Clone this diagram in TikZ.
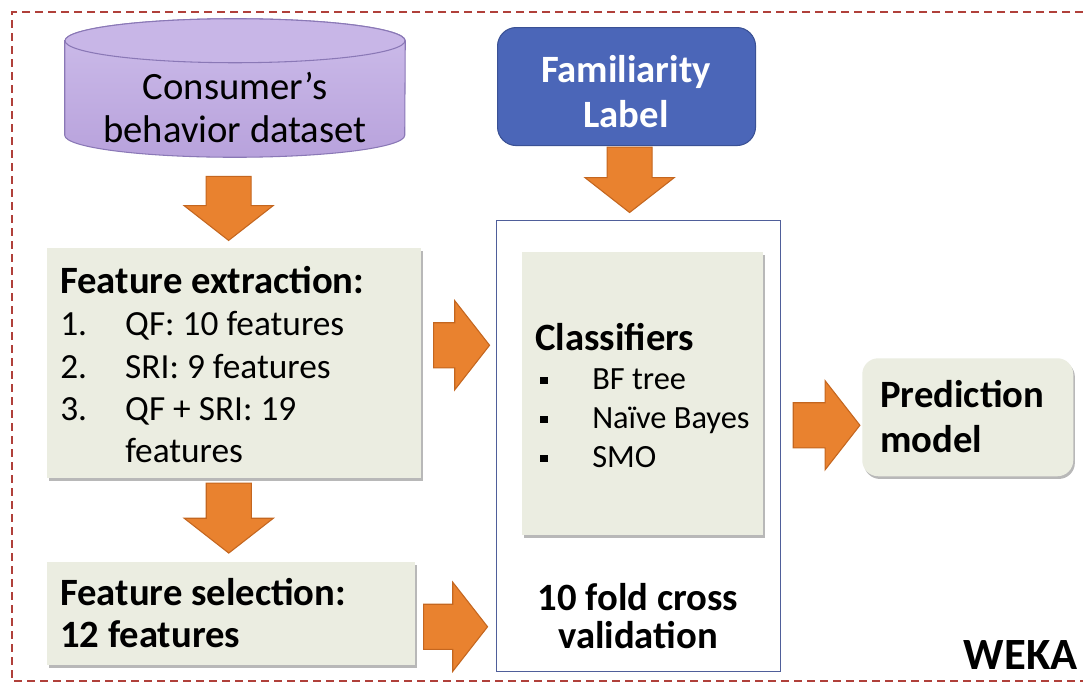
\documentclass[tikz,border=0pt]{standalone}
\usepackage{fontspec}
\setmainfont{Carlito}
\usepackage{tikz}
\usetikzlibrary{shapes.arrows,shadows,calc}
\usepackage{xcolor}

\definecolor{boxfill}{HTML}{EBEDE1}
\definecolor{arrowfill}{HTML}{E9822F}
\definecolor{arrowedge}{HTML}{C4661F}
\definecolor{labelfill}{HTML}{4B66B8}
\definecolor{labeledge}{HTML}{3A5195}
\definecolor{dbtop}{HTML}{CDBDEA}
\definecolor{dbbot}{HTML}{B8A2DC}
\definecolor{dbcap}{HTML}{C8B6E7}
\definecolor{dbedge}{HTML}{8A78B6}
\definecolor{framered}{HTML}{B0403A}
\definecolor{cvedge}{HTML}{4F5E9A}

\tikzset{
  stepbox/.style={rectangle, fill=boxfill, inner sep=0pt, anchor=north west,
    drop shadow={shadow xshift=1.2pt, shadow yshift=-2pt, fill=black, opacity=0.28}},
  roundbox/.style={stepbox, rounded corners=12pt},
  fatarrow/.style={single arrow, fill=arrowfill, draw=arrowedge, line width=0.8pt,
    inner xsep=0pt, inner ysep=16.5pt, minimum width=66pt,
    single arrow head extend=16.5pt, single arrow tip angle=104},
  downarrow/.style={fatarrow, shape border rotate=270, inner xsep=16.5pt, inner ysep=0pt},
  boldtext/.style={font=\fontsize{29}{31.5}\selectfont\bfseries, inner sep=0pt},
  plaintext/.style={font=\fontsize{26.5}{31.5}\selectfont, inner sep=0pt},
  itemtext/.style={font=\fontsize{24.3}{29}\selectfont, inner sep=0pt, anchor=base west},
}

\begin{document}
\begin{tikzpicture}[x=0.75pt, y=-0.75pt]
\useasboundingbox (0,0) rectangle (1083,686);
\fill[white] (0,0) rectangle (1083,686);

% dashed frame
\draw[framered, line width=1.1pt, dash pattern=on 6pt off 3.75pt] (1083,12) -- (12,12) -- (12,681) -- (1083,681);

% dataset cylinder
\node[minimum width=255pt, minimum height=103.5pt, inner sep=0pt] (db) at (235,88) {};
\draw[dbedge, line width=0.8pt, top color=dbtop, bottom color=dbbot]
  ([yshift=-16.5pt]db.north west) -- ([yshift=16.5pt]db.south west)
  arc[start angle=180, end angle=360, x radius=127.5pt, y radius=16.5pt]
  -- ([yshift=-16.5pt]db.north east)
  arc[start angle=0, end angle=180, x radius=127.5pt, y radius=16.5pt] -- cycle;
\draw[dbedge, line width=0.8pt, fill=dbcap] ([yshift=-16.5pt]db.north) ellipse [x radius=127.5pt, y radius=16.5pt];
\node[plaintext, font=\fontsize{29}{31.5}\selectfont, anchor=base] (dbline1) at (235,99) {Consumer’s};
\node[plaintext, font=\fontsize{29}{31.5}\selectfont, anchor=base] (dbline2) at (235,142) {behavior dataset};

% feature extraction
\node[stepbox, minimum width=280.5pt, minimum height=172.5pt] (fe) at (47,248) {};
\node[boldtext, anchor=base west] (fetitle) at (60,293) {Feature extraction:};
\node[plaintext, anchor=base west] (fe1) at (60,335) {\makebox[48.75pt][l]{1.}QF: 10 features};
\node[plaintext, anchor=base west] (fe2) at (60,378) {\makebox[48.75pt][l]{2.}SRI: 9 features};
\node[plaintext, anchor=base west] (fe3) at (60,420) {\makebox[48.75pt][l]{3.}QF + SRI: 19};
\node[plaintext, anchor=base west] (fe4) at (125,462) {features};

% feature selection
\node[stepbox, minimum width=276pt, minimum height=77.25pt] (fs) at (47,562) {};
\node[boldtext, anchor=base west] (fstitle) at (60,605) {Feature selection:};
\node[boldtext, anchor=base west] (fsline) at (60,647) {12 features};

% familiarity label
\node[rectangle, rounded corners=14pt, fill=labelfill, draw=labeledge, line width=0.8pt,
  minimum width=193.5pt, minimum height=88.5pt, anchor=north west] (fam) at (497,27) {};
\node[boldtext, text=white, anchor=base] (famline1) at (626,82) {Familiarity};
\node[boldtext, text=white, anchor=base] (famline2) at (626,127) {Label};

% cross validation frame and classifiers
\node[draw=cvedge, line width=1pt, minimum width=213pt, minimum height=338.25pt,
  inner sep=0pt, anchor=north west] (cv) at (496,220) {};
\node[stepbox, minimum width=180.75pt, minimum height=212.25pt] (cls) at (522,252) {};
\node[boldtext, anchor=base west] (clstitle) at (535,350) {Classifiers};
\node[itemtext] (cls1) at (536,389) {\makebox[42pt][l]{\hspace{3pt}\rule[3.5pt]{5.5pt}{5.5pt}}BF tree};
\node[itemtext] (cls2) at (536,428) {\makebox[42pt][l]{\hspace{3pt}\rule[3.5pt]{5.5pt}{5.5pt}}Naïve Bayes};
\node[itemtext] (cls3) at (536,467) {\makebox[42pt][l]{\hspace{3pt}\rule[3.5pt]{5.5pt}{5.5pt}}SMO};
\node[boldtext, anchor=base] (cvline1) at (638,610) {10 fold cross};
\node[boldtext, anchor=base] (cvline2) at (638,648) {validation};

% prediction model
\node[roundbox, minimum width=158.25pt, minimum height=88.5pt] (pm) at (862,358) {};
\node[boldtext, anchor=base west] (pmline1) at (880,407) {Prediction};
\node[boldtext, anchor=base west] (pmline2) at (880,452) {model};

\node[font=\fontsize{33.5}{36}\selectfont\bfseries, inner sep=0pt, anchor=base east] (weka) at (1078,669) {WEKA};

% block arrows
\node[downarrow, minimum height=48pt] (a1) at ($(db.south)!0.5!(fe.north)+(-6,-3)$) {};
\node[downarrow, minimum height=52.5pt] (a2) at ($(fe.south)!0.5!(fs.north)+(-4,-11)$) {};
\node[downarrow, minimum height=49pt] (a3) at ($(fam.south)!0.5!(cv.north)+(-3,-12)$) {};
\node[fatarrow, minimum height=42pt] (a4) at ($(fe.east)!0.5!(fe.east -| cv.west)+(-6,-18)$) {};
\node[fatarrow, minimum height=48pt] (a5) at ($(fs.east)!0.5!(fs.east -| cv.west)+(-9,13)$) {};
\node[fatarrow, minimum height=50pt] (a6) at ($(cls.east |- pm.west)!0.5!(pm.west)+(5,8)$) {};
\end{tikzpicture}
\end{document}
